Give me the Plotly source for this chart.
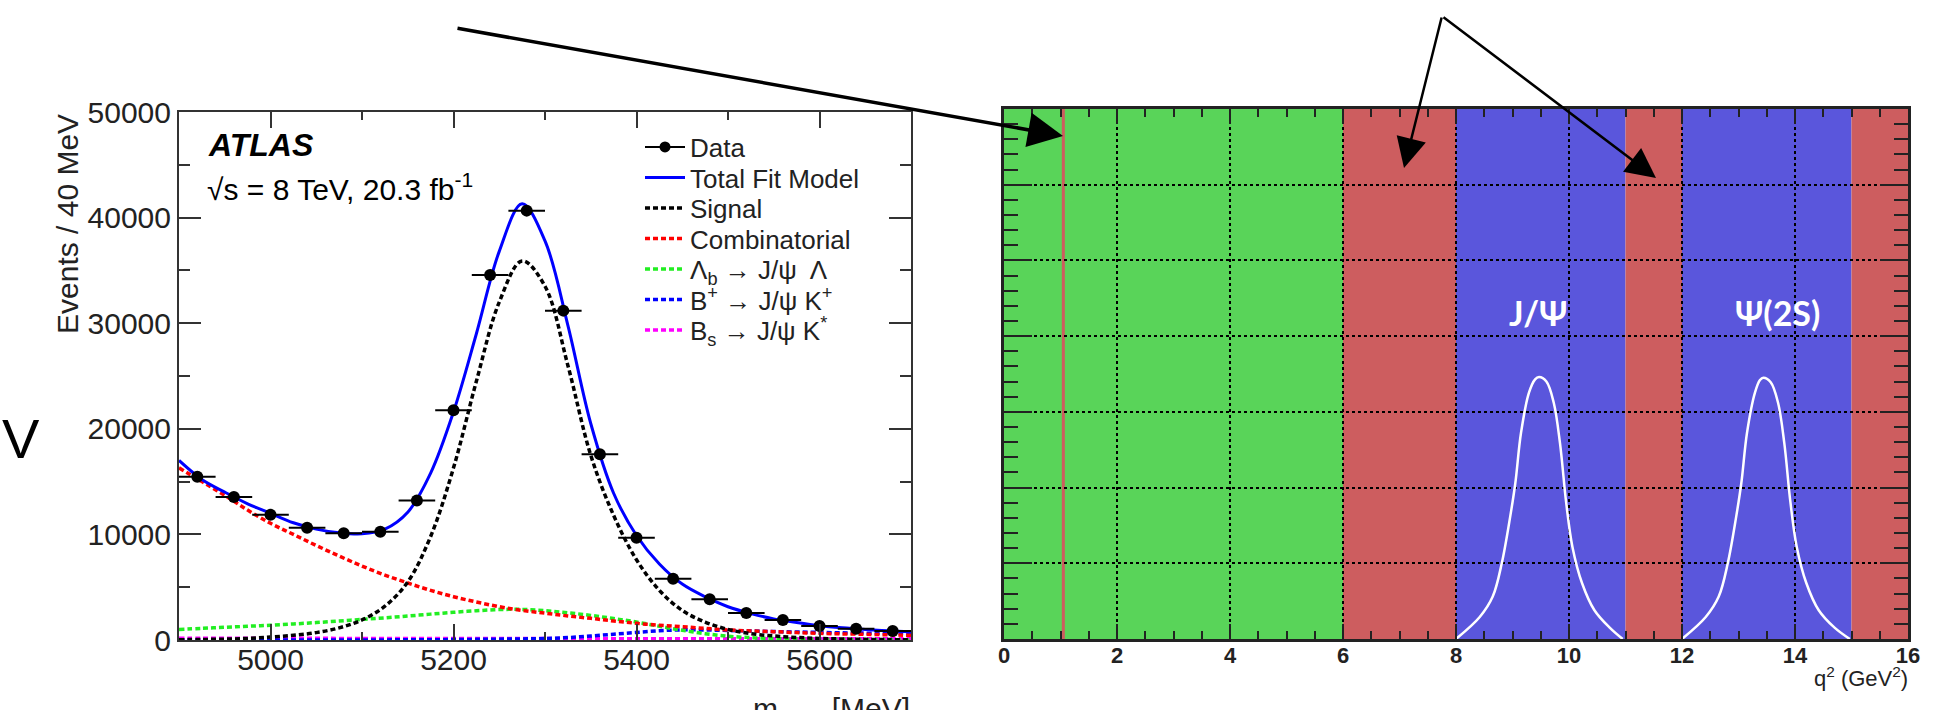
import plotly.graph_objects as go

# ---------------- left panel: ATLAS mass fit ----------------
data_x = [4920, 4960, 5000, 5040, 5080, 5120, 5160, 5200, 5240, 5280,
          5320, 5360, 5400, 5440, 5480, 5520, 5560, 5600, 5640, 5680]
data_y = [15460, 13540, 11870, 10640, 10100, 10260, 13200, 21750, 34560, 40660,
          31190, 17580, 9690, 5810, 3850, 2560, 1890, 1330, 1070, 850]
data_xerr = [20, 20, 20, 20, 20, 20, 20, 20, 20, 20,
             20, 20, 20, 20, 20, 20, 20, 20, 20, 20]

model_x = [4900, 4925, 4950, 4975, 5000, 5025, 5050, 5075, 5100, 5125, 5150,
           5175, 5200, 5225, 5250, 5275, 5300, 5325, 5350, 5375, 5400, 5425,
           5450, 5475, 5500, 5525, 5550, 5575, 5600, 5625, 5650, 5675, 5700]
total_fit = [17000, 15200, 14000, 12900, 12000, 11100, 10500, 10150, 10050, 10500, 12100,
             15800, 21600, 29000, 36800, 41300, 37800, 29800, 20500, 13900, 9900, 7200,
             5300, 4100, 3150, 2500, 2000, 1650, 1350, 1150, 1000, 880, 790]
signal = [30, 50, 80, 150, 280, 450, 700, 1150, 1900, 3200, 5500,
          9800, 16300, 24500, 32000, 35900, 33500, 26000, 17500, 11800, 7600, 4700,
          2800, 1700, 1000, 600, 380, 240, 150, 100, 60, 40, 25]
combinatorial = [16300, 15000, 13700, 12300, 11050, 10000, 8950, 7950, 7000, 6150, 5400,
                 4700, 4100, 3600, 3150, 2800, 2540, 2280, 2050, 1800, 1580, 1400,
                 1260, 1100, 950, 860, 790, 700, 630, 580, 540, 490, 440]
lambda_b = [1000, 1100, 1200, 1300, 1400, 1520, 1650, 1800, 1950, 2100, 2270,
            2450, 2620, 2770, 2880, 2900, 2780, 2580, 2330, 2030, 1700, 1300,
            920, 600, 360, 220, 140, 90, 60, 40, 25, 15, 10]
b_plus = [0, 0, 0, 0, 0, 0, 0, 0, 5, 10, 15,
          25, 40, 60, 80, 100, 140, 230, 380, 550, 720, 880,
          960, 950, 900, 850, 800, 760, 720, 680, 650, 620, 600]
b_s = [170, 168, 165, 163, 160, 158, 155, 153, 150, 148, 146,
       144, 142, 140, 138, 136, 134, 132, 130, 128, 126, 125,
       124, 122, 120, 119, 118, 117, 116, 115, 114, 113, 112]

legend_labels = ["Data", "Total Fit Model", "Signal", "Combinatorial",
                 "Λ<sub>b</sub> → J/ψ  Λ", "B<sup>+</sup> → J/ψ K<sup>+</sup>",
                 "B<sub>s</sub> → J/ψ K<sup>*</sup>"]

# ---------------- right panel: q^2 regions ----------------
band_edges = [0, 6, 8, 11, 12, 15, 16]
band_colors = ["#59d459", "#cd5d5f", "#5a56dc", "#cd5d5f", "#5a56dc", "#cd5d5f"]
veto_line_x = 1.05

jpsi_x = [8.0, 8.42, 8.65, 8.81, 8.96, 9.05, 9.15, 9.29, 9.40, 9.47,
          9.60, 9.73, 9.84, 9.95, 10.06, 10.23, 10.45, 10.72, 10.95]
jpsi_y = [0.0, 0.29, 0.56, 1.0, 1.62, 2.06, 2.72, 3.25, 3.43, 3.46,
          3.40, 3.12, 2.59, 1.80, 1.22, 0.74, 0.38, 0.15, 0.0]
psi2s_x = [12.0, 12.42, 12.65, 12.81, 12.96, 13.05, 13.15, 13.29, 13.38, 13.44,
           13.57, 13.70, 13.81, 13.92, 14.03, 14.20, 14.42, 14.70, 14.97]
psi2s_y = [0.0, 0.29, 0.56, 1.0, 1.62, 2.06, 2.72, 3.25, 3.42, 3.45,
           3.39, 3.12, 2.59, 1.80, 1.22, 0.74, 0.38, 0.15, 0.0]

W, H = 1954, 710
def px(x):
    return x / W
def py(y):
    return 1 - y / H

FONT = "Liberation Sans, Arial, sans-serif"
dash = "5px,3px"

fig = go.Figure()

def comp(y, color, idx, width=3.5, dsh=dash):
    fig.add_trace(go.Scatter(x=model_x, y=y, mode="lines", name=legend_labels[idx],
                             line=dict(color=color, width=width, dash=dsh, shape="spline"),
                             xaxis="x", yaxis="y", legend="legend" if idx == 0 else "legend%d" % (idx + 1)))

comp(b_s, "#ff00ff", 6)
comp(b_plus, "#0000ff", 5)
comp(lambda_b, "#22ee22", 4)
comp(combinatorial, "#ff0000", 3)
comp(signal, "#000000", 2)
comp(total_fit, "#0000ff", 1, width=3, dsh="solid")
fig.add_trace(go.Scatter(x=data_x, y=data_y, mode="markers", name="Data", showlegend=False,
                         marker=dict(color="black", size=12),
                         error_x=dict(type="data", array=data_xerr, color="black", thickness=2, width=0),
                         xaxis="x", yaxis="y"))
fig.add_trace(go.Scatter(x=[None], y=[None], mode="lines+markers", name=legend_labels[0],
                         marker=dict(color="black", size=11), line=dict(color="black", width=2),
                         xaxis="x", yaxis="y", legend="legend"))

# right panel traces
fig.add_trace(go.Scatter(x=jpsi_x, y=jpsi_y, mode="lines", showlegend=False,
                         line=dict(color="white", width=2.5, shape="spline"),
                         xaxis="x2", yaxis="y2"))
fig.add_trace(go.Scatter(x=psi2s_x, y=psi2s_y, mode="lines", showlegend=False,
                         line=dict(color="white", width=2.5, shape="spline"),
                         xaxis="x2", yaxis="y2"))

shapes = []
for i, c in enumerate(band_colors):
    shapes.append(dict(type="rect", xref="x2", yref="y2 domain",
                       x0=band_edges[i], x1=band_edges[i + 1], y0=0, y1=1,
                       fillcolor=c, line=dict(width=0), layer="below"))
shapes.append(dict(type="line", xref="x2", yref="y2 domain", x0=veto_line_x, x1=veto_line_x,
                   y0=0, y1=1, line=dict(color="#cd5d5f", width=3), layer="below"))

axis_col = "#333333"
tick_font_left = dict(family=FONT, size=30, color="#222")

annotations = [
    dict(text="<b><i>ATLAS</i></b>", x=px(206), y=py(145), xref="paper", yref="paper",
         xanchor="left", yanchor="middle", showarrow=False, font=dict(family=FONT, size=32, color="black")),
    dict(text="√s = 8 TeV, 20.3 fb<sup>-1</sup>", x=px(205), y=py(187), xref="paper", yref="paper",
         xanchor="left", yanchor="middle", showarrow=False, font=dict(family=FONT, size=30, color="black")),
    dict(text="Events / 40 MeV", x=px(67), y=py(224), xref="paper", yref="paper", textangle=-90,
         xanchor="center", yanchor="middle", showarrow=False, font=dict(family=FONT, size=30, color="#222")),
    dict(text="m<sub>J/ψΛ</sub> [MeV]", x=px(912), y=py(710), xref="paper", yref="paper",
         xanchor="right", yanchor="middle", showarrow=False, font=dict(family=FONT, size=30, color="#222")),
    dict(text="V", x=px(21), y=py(439), xref="paper", yref="paper",
         xanchor="center", yanchor="middle", showarrow=False, font=dict(family=FONT, size=56, color="black")),
    dict(text="q<sup>2</sup> (GeV<sup>2</sup>)", x=px(1910), y=py(677), xref="paper", yref="paper",
         xanchor="right", yanchor="middle", showarrow=False, font=dict(family=FONT, size=22, color="#222")),
    dict(text="<b>J/Ψ</b>", x=px(1538), y=py(312), xref="paper", yref="paper",
         xanchor="center", yanchor="middle", showarrow=False, font=dict(family="Lato, Open Sans, sans-serif", size=34, color="white")),
    dict(text="<b>Ψ(2S)</b>", x=px(1777), y=py(312), xref="paper", yref="paper",
         xanchor="center", yanchor="middle", showarrow=False, font=dict(family="Lato, Open Sans, sans-serif", size=34, color="white")),
    # arrows
    dict(text="", x=px(1063), y=py(136), xref="paper", yref="paper", showarrow=True,
         ax=456 - 1063, ay=28 - 136, axref="pixel", ayref="pixel",
         arrowhead=2, arrowsize=2.0, arrowwidth=3.5, arrowcolor="black", standoff=0),
    dict(text="", x=px(1404), y=py(168), xref="paper", yref="paper", showarrow=True,
         ax=1442 - 1404, ay=16 - 168, axref="pixel", ayref="pixel",
         arrowhead=2, arrowsize=2.4, arrowwidth=2.5, arrowcolor="black", standoff=0),
    dict(text="", x=px(1656), y=py(178), xref="paper", yref="paper", showarrow=True,
         ax=1442 - 1656, ay=16 - 178, axref="pixel", ayref="pixel",
         arrowhead=2, arrowsize=2.4, arrowwidth=2.5, arrowcolor="black", standoff=0),
]

legends = {}
for i in range(7):
    key = "legend" if i == 0 else "legend%d" % (i + 1)
    legends[key] = dict(x=px(640), y=py(147 + 30.5 * i), xanchor="left", yanchor="middle",
                        bgcolor="rgba(0,0,0,0)", font=dict(family=FONT, size=26, color="#222"),
                        itemwidth=40)

fig.update_layout(
    width=W, height=H, margin=dict(l=0, r=0, t=0, b=0, autoexpand=False),
    paper_bgcolor="white", plot_bgcolor="white",
    shapes=shapes, annotations=annotations,
    showlegend=True,
    **legends,
    xaxis=dict(domain=[px(179), px(911)], range=[4900, 5700], dtick=200, tick0=5000,
               ticks="inside", ticklen=16, tickwidth=2, tickcolor=axis_col,
               showline=True, linecolor=axis_col, linewidth=2, mirror="allticks",
               showgrid=False, zeroline=False, tickfont=tick_font_left, anchor="y", automargin=False,
               ticklabelstandoff=-8,
               minor=dict(dtick=100, ticklen=8, tickwidth=2, tickcolor=axis_col, ticks="inside", showgrid=False)),
    yaxis=dict(domain=[py(640), py(112)], range=[0, 50000], dtick=10000, tickformat="d",
               ticks="inside", ticklen=22, tickwidth=2, tickcolor=axis_col,
               showline=True, linecolor=axis_col, linewidth=2, mirror="allticks",
               showgrid=False, zeroline=False, tickfont=tick_font_left, anchor="x", automargin=False,
               minor=dict(dtick=5000, ticklen=11, tickwidth=2, tickcolor=axis_col, ticks="inside", showgrid=False)),
    xaxis2=dict(domain=[px(1004), px(1908)], range=[0, 16], dtick=2,
                ticks="inside", ticklen=15, tickwidth=2, tickcolor="#222",
                showline=True, linecolor="#222", linewidth=2.5, mirror="allticks",
                showgrid=True, gridcolor="black", griddash="dot", gridwidth=1.5,
                zeroline=False, anchor="y2", layer="above traces", automargin=False,
                ticklabelstandoff=-5,
                tickfont=dict(family=FONT, size=22, color="#222", weight="bold"),
                minor=dict(dtick=0.5, ticklen=8, tickwidth=2, tickcolor="#222", ticks="inside", showgrid=False)),
    yaxis2=dict(domain=[py(639), py(109)], range=[0, 7], dtick=1,
                ticks="inside", ticklen=28, tickwidth=2, tickcolor="#222",
                showline=True, linecolor="#222", linewidth=2.5, mirror="allticks",
                showgrid=True, gridcolor="black", griddash="dot", gridwidth=1.5,
                zeroline=False, anchor="x2", showticklabels=False, layer="above traces", automargin=False,
                minor=dict(dtick=0.2, ticklen=14, tickwidth=2, tickcolor="#222", ticks="inside", showgrid=False)),
)

fig.write_html("out.html")
